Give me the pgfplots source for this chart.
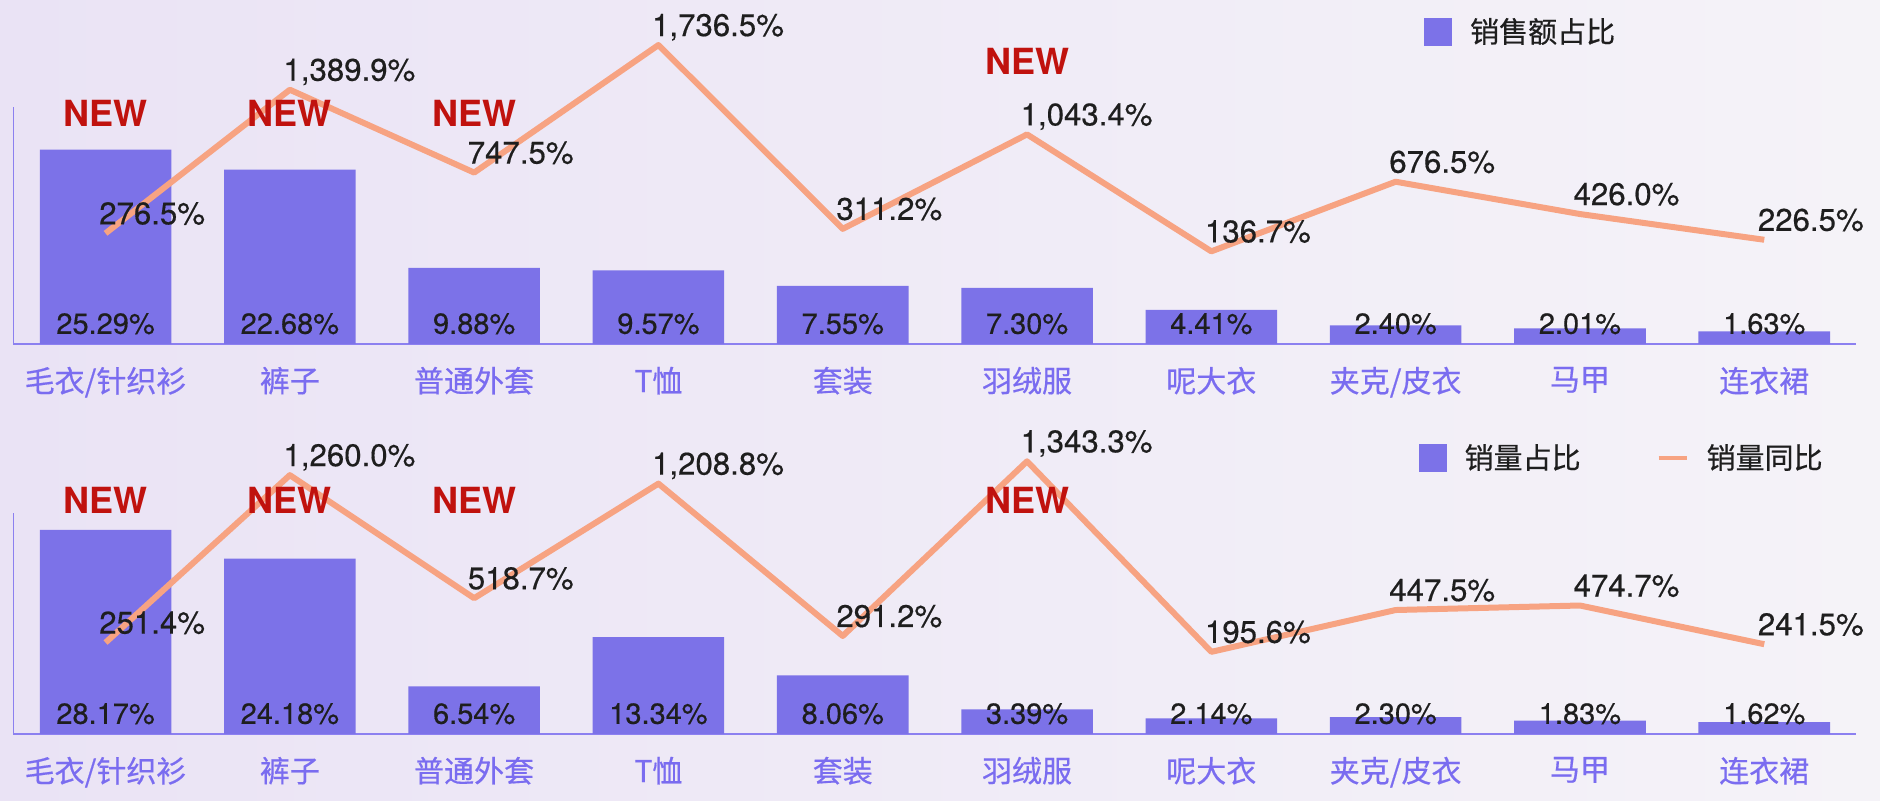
\documentclass[border=0pt]{standalone}
\usepackage{pgfplots}
\pgfplotsset{compat=1.18}
\usepackage{fontspec}
\setmainfont{TeX Gyre Heros}
\newfontfamily\numf{TeX Gyre Heros}[FakeBold=0.4]
\newfontfamily\cjk{Noto Sans CJK SC}[FakeBold=0.5]
\definecolor{barc}{RGB}{124,114,232}
\definecolor{linec}{RGB}{247,163,130}
\definecolor{labc}{RGB}{122,108,240}
\definecolor{newc}{RGB}{192,18,14}
\definecolor{bgl}{RGB}{234,227,245}
\definecolor{bgr}{RGB}{245,243,248}
\definecolor{axc}{RGB}{140,128,240}
\definecolor{txt}{RGB}{30,30,30}

\tikzset{newlab/.style={text=newc, font=\bfseries\fontsize{18}{20}\selectfont}}

\pgfplotsset{
  base/.style={scale only axis, width=921.5pt, xmin=-0.5, xmax=9.5, clip=false,
    /pgf/number format/assume math mode=true},
  barax/.style={base, axis x line*=bottom, axis y line*=left,
    axis line style={axc, line width=0.8pt, -}, ytick=\empty, ymin=0,
    xtick={0,...,9},
    xticklabels={毛衣/针织衫,裤子,普通外套,T恤,套装,羽绒服,呢大衣,夹克/皮衣,马甲,连衣裙},
    major tick length=0pt,
    xticklabel style={font=\cjk\fontsize{15}{17}\selectfont, text=labc, yshift=-8pt},
    legend style={draw=none, fill=none, anchor=west,
      font=\cjk\fontsize{14.5}{16}\selectfont, text=txt,
      /tikz/every odd column/.append style={column sep=7pt},
      /tikz/every even column/.append style={column sep=36pt}},
    legend columns=2},
  lineax/.style={base, axis lines=none},
  barlab/.style={draw=none, mark=none, forget plot, point meta=explicit,
    nodes near coords={\pgfmathprintnumber[fixed,fixed zerofill,precision=2]{\pgfplotspointmeta}\%},
    nodes near coords style={anchor=base, yshift=5pt, text=txt, font=\numf\fontsize{14.5}{16}\selectfont}},
  linelab/.style={linec, line width=3pt, mark=none, line join=round, point meta=y,
    nodes near coords={\pgfmathprintnumber[fixed,fixed zerofill,precision=1,1000 sep={,}]{\pgfplotspointmeta}\%},
    nodes near coords style={anchor=base west, xshift=-8pt, yshift=4.5pt, text=txt, font=\numf\fontsize{15.6}{17}\selectfont}}
}

\begin{document}
\begin{tikzpicture}
\shade[left color=bgl, right color=bgr] (0,0) rectangle (940pt,400.5pt);

% ---------- top panel ----------
\begin{axis}[barax, at={(6.7pt,228.6pt)}, anchor=south west, height=118.2pt, ymax=30.8,
  legend style={at={(axis description cs:0.762,1.32)}}]
\addplot[ybar, bar width=0.714, fill=barc, draw=none,
  legend image code/.code={\fill[barc] (0pt,-7pt) rectangle (14pt,7pt);}]
  coordinates {(0,25.29) (1,22.68) (2,9.88) (3,9.57) (4,7.55) (5,7.30) (6,4.41) (7,2.40) (8,2.01) (9,1.63)};
\addlegendentry{销售额占比}
\addplot[barlab] table[meta=m] {
x y m
0 0 25.29
1 0 22.68
2 0 9.88
3 0 9.57
4 0 7.55
5 0 7.30
6 0 4.41
7 0 2.40
8 0 2.01
9 0 1.63
};
\end{axis}
\begin{axis}[lineax, at={(6.7pt,228.6pt)}, anchor=south west, height=118.2pt, ymin=-580, ymax=1253]
\addplot[linelab] coordinates {(0,276.5) (1,1389.9) (2,747.5) (3,1736.5) (4,311.2) (5,1043.4) (6,136.7) (7,676.5) (8,426.0) (9,226.5)};
\node[newlab] at (axis cs:0,1206) {NEW};
\node[newlab] at (axis cs:1,1206) {NEW};
\node[newlab] at (axis cs:2,1206) {NEW};
\node[newlab] at (axis cs:5,1606) {NEW};
\end{axis}

% ---------- bottom panel ----------
\begin{axis}[barax, at={(6.7pt,33.6pt)}, anchor=south west, height=110.4pt, ymax=30.5,
  legend style={at={(axis description cs:0.759,1.25)}}]
\addplot[ybar, bar width=0.714, fill=barc, draw=none,
  legend image code/.code={\fill[barc] (0pt,-7pt) rectangle (14pt,7pt);}]
  coordinates {(0,28.17) (1,24.18) (2,6.54) (3,13.34) (4,8.06) (5,3.39) (6,2.14) (7,2.30) (8,1.83) (9,1.62)};
\addlegendentry{销量占比}
\addlegendimage{legend image code/.code={\draw[linec, line width=2pt] (0pt,0pt) -- (14pt,0pt);}}
\addlegendentry{销量同比}
\addplot[barlab] table[meta=m] {
x y m
0 0 28.17
1 0 24.18
2 0 6.54
3 0 13.34
4 0 8.06
5 0 3.39
6 0 2.14
7 0 2.30
8 0 1.83
9 0 1.62
};
\end{axis}
\begin{axis}[lineax, at={(6.7pt,33.6pt)}, anchor=south west, height=110.4pt, ymin=-298, ymax=1032]
\addplot[linelab] coordinates {(0,251.4) (1,1260.0) (2,518.7) (3,1208.8) (4,291.2) (5,1343.3) (6,195.6) (7,447.5) (8,474.7) (9,241.5)};
\node[newlab] at (axis cs:0,1105) {NEW};
\node[newlab] at (axis cs:1,1105) {NEW};
\node[newlab] at (axis cs:2,1105) {NEW};
\node[newlab] at (axis cs:5,1105) {NEW};
\end{axis}

\pgfresetboundingbox
\path[use as bounding box] (0,0) rectangle (940pt,400.5pt);
\end{tikzpicture}
\end{document}
